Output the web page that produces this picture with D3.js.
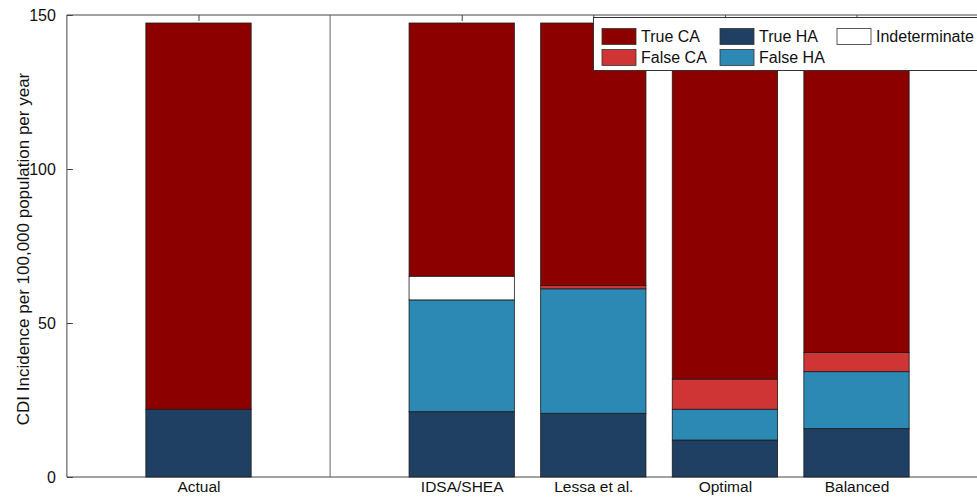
<!DOCTYPE html>
<html><head><meta charset="utf-8">
<script src="https://cdn.jsdelivr.net/npm/d3@7"></script>
<style>body{margin:0;background:#fff}svg{display:block;font-family:"Liberation Sans",Arial,sans-serif}</style>
</head><body>
<script>
const categories = ["Actual", "IDSA/SHEA", "Lessa et al.", "Optimal", "Balanced"];
const positions = [1, 3, 4, 5, 6];
const seriesNames = ["True HA", "False HA", "Indeterminate", "False CA", "True CA"];
const trueHA = [22.0, 21.2, 20.7, 12.0, 15.7];
const falseHA = [0, 36.3, 40.4, 10.0, 18.5];
const indeterminate = [0, 7.7, 0, 0, 0];
const falseCA = [0, 0, 1.1, 9.8, 6.2];
const trueCA = [125.4, 82.2, 85.2, 115.6, 107.0];
const yTicks = [0, 50, 100, 150];
const colors = {"True CA":"#8c0000","False CA":"#cf3535","True HA":"#1f3f63","False HA":"#2b89b3","Indeterminate":"#ffffff"};
const legendOrder = ["True CA","False CA","True HA","False HA","Indeterminate"];

const W = 977, H = 498;
const svg = d3.select("body").append("svg").attr("width", W).attr("height", H);
const x = d3.scaleLinear().domain([0, 7]).range([66.9, 66.9 + 7 * 131.6]);
const y = d3.scaleLinear().domain([0, 150]).range([477, 15]);
const bw = x(0.8) - x(0);

const valuesBy = {"True HA":trueHA,"False HA":falseHA,"Indeterminate":indeterminate,"False CA":falseCA,"True CA":trueCA};
const rows = categories.map((c, i) => {
  const r = {cat: c, pos: positions[i]};
  seriesNames.forEach(s => r[s] = valuesBy[s][i]);
  return r;
});
const stacked = d3.stack().keys(seriesNames)(rows);

const axisColor = "#444";
// frame
svg.append("line").attr("x1", x(0)).attr("x2", W).attr("y1", y(150)).attr("y2", y(150)).attr("stroke", axisColor);
svg.append("line").attr("x1", x(0)).attr("x2", W).attr("y1", y(0)).attr("y2", y(0)).attr("stroke", axisColor);
svg.append("line").attr("x1", x(0)).attr("x2", x(0)).attr("y1", y(0)).attr("y2", y(150)).attr("stroke", axisColor);
// separator
svg.append("line").attr("x1", x(2)).attr("x2", x(2)).attr("y1", y(0)).attr("y2", y(150)).attr("stroke", "#666");

// y axis
const yAxis = d3.axisLeft(y).tickValues(yTicks).tickSize(-6).tickPadding(11).tickFormat(d3.format("d"));
const ya = svg.append("g").attr("transform", `translate(${x(0)},0)`).call(yAxis);
ya.select(".domain").remove();
ya.selectAll("line").attr("stroke", axisColor);
ya.selectAll("text").attr("font-size", 16).attr("fill", "#111").attr("font-family", "Liberation Sans, Arial, sans-serif");

// top ticks
const xTop = d3.axisTop(x).tickValues(positions).tickSize(-6).tickFormat("");
const xt = svg.append("g").attr("transform", `translate(0,${y(150)})`).call(xTop);
xt.select(".domain").remove();
xt.selectAll("line").attr("stroke", axisColor);

// bars
svg.append("g").selectAll("g").data(stacked).join("g")
  .attr("fill", d => colors[d.key])
  .selectAll("rect").data(d => d.filter(e => e[1] - e[0] > 0)).join("rect")
  .attr("x", d => x(d.data.pos) - bw / 2)
  .attr("width", bw)
  .attr("y", d => y(d[1]))
  .attr("height", d => y(d[0]) - y(d[1]))
  .attr("stroke", "#1a1a1a").attr("stroke-width", 0.8);

// x labels
const xAxis = d3.axisBottom(x).tickValues(positions).tickSize(0).tickPadding(4).tickFormat((d, i) => categories[i]);
const xa = svg.append("g").attr("transform", `translate(0,${y(0)})`).call(xAxis);
xa.select(".domain").remove();
xa.selectAll("text").attr("font-size", 15.5).attr("fill", "#111").attr("font-family", "Liberation Sans, Arial, sans-serif");

// y label
svg.append("text").attr("transform", `translate(29,249) rotate(-90)`).attr("text-anchor", "middle")
  .attr("font-size", 17).attr("fill", "#111").text("CDI Incidence per 100,000 population per year");

// legend
const lg = svg.append("g");
lg.append("rect").attr("x", 593.5).attr("y", 17.5).attr("width", 400).attr("height", 53).attr("fill", "#fff").attr("stroke", "#333");
const colX = [602, 720, 837];
legendOrder.forEach((k, i) => {
  const col = Math.floor(i / 2), row = i % 2;
  const gx = colX[col], gy = 28.5 + row * 21;
  lg.append("rect").attr("x", gx).attr("y", gy).attr("width", 34).attr("height", 16).attr("fill", colors[k]).attr("stroke", "#333").attr("stroke-width", 0.8);
  lg.append("text").attr("x", gx + 39).attr("y", gy + 13.5).attr("font-size", 16).attr("fill", "#111").text(k);
});
</script>
</body></html>
